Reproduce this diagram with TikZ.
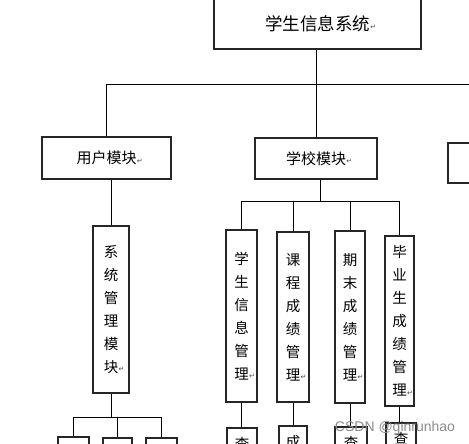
\documentclass[tikz,border=0pt]{standalone}
\usepackage{fontspec}
\newfontfamily\cjk{Noto Sans CJK SC}
\newfontfamily\symfont{DejaVu Sans}
\newfontfamily\wmfont{Liberation Sans}
\newcommand\retmark{\rlap{\hspace{0.3pt}\raisebox{0.5pt}{\symfont\fontsize{7}{7}\selectfont\textcolor{black!70}{↵}}}}
\tikzset{
  box/.style={draw=black!85, line width=1.1pt, fill=white, inner sep=0pt, align=center},
  hbox/.style={box, font=\cjk\fontsize{15}{15}\selectfont},
  vbox/.style={box, font=\cjk\fontsize{14.5}{23}\selectfont},
  conn/.style={draw=black, line width=0.9pt},
}
\begin{document}
\begin{tikzpicture}[x=1pt, y=-1pt]
\useasboundingbox (0,0) rectangle (469,444);
\clip (0,0) rectangle (469,444);
\fill[white] (0,0) rectangle (469,444);

% top level
\node[hbox, font=\cjk\fontsize{17.5}{17.5}\selectfont, minimum width=207pt, minimum height=51pt] (sys) at (317.5,23.5) {\raisebox{-3.5pt}{学生信息系统\retmark}};

% second level
\node[hbox, minimum width=129pt, minimum height=42pt] (user) at (106.5,158) {用户模块\retmark};
\node[hbox, minimum width=122pt, minimum height=41pt] (school) at (316,158.5) {学校模块\retmark};
\node[hbox, minimum width=64pt, minimum height=40pt] (other) at (480,163) {};

% third level
\node[vbox, minimum width=36pt, minimum height=167pt] (sysmgmt) at (111,309.5) {系\\统\\管\\理\\模\\块\retmark};
\node[vbox, minimum width=31pt, minimum height=172pt] (s1) at (241.5,316) {学\\生\\信\\息\\管\\理\retmark};
\node[vbox, minimum width=32pt, minimum height=170pt] (s2) at (293,317) {课\\程\\成\\绩\\管\\理\retmark};
\node[vbox, minimum width=30pt, minimum height=172pt] (s3) at (350,317) {期\\末\\成\\绩\\管\\理\retmark};
\node[vbox, minimum width=29pt, minimum height=170pt] (s4) at (399.5,321) {毕\\业\\生\\成\\绩\\管\\理\retmark};

% fourth level (cut off)
\node[box, minimum width=31pt, minimum height=40pt] (u1) at (73.5,457) {};
\node[box, minimum width=29pt, minimum height=40pt] (u2) at (117.5,458) {};
\node[box, minimum width=31pt, minimum height=40pt] (u3) at (161.5,458) {};
\node[vbox, minimum width=30pt, minimum height=32pt] (b1) at (242,444) {查};
\node[vbox, minimum width=28pt, minimum height=32pt] (b2) at (293,442) {成};
\node[vbox, minimum width=32pt, minimum height=32pt] (b3) at (351,443) {查};
\node[vbox, minimum width=30pt, minimum height=32pt] (b4) at (401,439) {查};

% junction points
\coordinate (j0) at (316,84);
\coordinate (jL) at (106.5,84);
\coordinate (jR) at (480,84);
\coordinate (ju) at (111,417);
\coordinate (js) at (320,201);

% connectors
\draw[conn] (sys.south -| j0) -- (j0);
\draw[conn] (jL) -- (jR);
\draw[conn] (jL) -- (user.north);
\draw[conn] (j0) -- (school.north);
\draw[conn] (jR) -- (other.north);

\draw[conn] (sysmgmt.north |- user.south) -- (sysmgmt.north);
\draw[conn] (sysmgmt.south) -- (ju);
\draw[conn] (u1.north |- ju) -- (u3.north |- ju);
\draw[conn] (u1.north |- ju) -- (u1.north);
\draw[conn] (u2.north |- ju) -- (u2.north);
\draw[conn] (u3.north |- ju) -- (u3.north);

\draw[conn] (js |- school.south) -- (js);
\draw[conn] (s1.north |- js) -- (s4.north |- js);
\draw[conn] (s1.north |- js) -- (s1.north);
\draw[conn] (s2.north |- js) -- (s2.north);
\draw[conn] (s3.north |- js) -- (s3.north);
\draw[conn] (s4.north |- js) -- (s4.north);

\draw[conn] (s1.south) -- (b1.north -| s1.south);
\draw[conn] (s2.south) -- (b2.north -| s2.south);
\draw[conn] (s3.south) -- (b3.north -| s3.south);
\draw[conn] (s4.south) -- (b4.north -| s4.south);

% watermark
\node[font=\wmfont\fontsize{14}{14}\selectfont, text=black!45, inner sep=0pt] (wm) at (395,428) {CSDN @qinrunhao};
\end{tikzpicture}
\end{document}
